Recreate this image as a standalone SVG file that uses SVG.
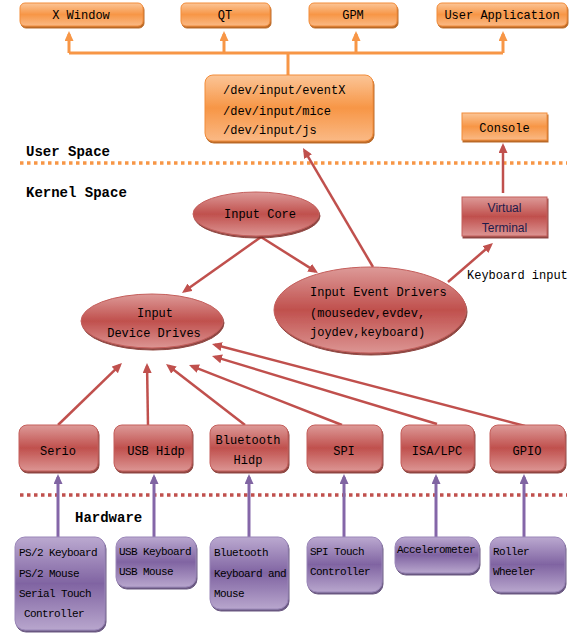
<svg xmlns="http://www.w3.org/2000/svg" width="587" height="635" viewBox="0 0 587 635">
<defs>
<linearGradient id="gO" x1="0" y1="0" x2="0" y2="1"><stop offset="0" stop-color="#fbc597"/><stop offset="0.5" stop-color="#f79646"/><stop offset="1" stop-color="#fab985"/></linearGradient>
<linearGradient id="gR" x1="0" y1="0" x2="0" y2="1"><stop offset="0" stop-color="#dd9a98"/><stop offset="0.5" stop-color="#c0504d"/><stop offset="1" stop-color="#dc9593"/></linearGradient>
<linearGradient id="gP" x1="0" y1="0" x2="0" y2="1"><stop offset="0" stop-color="#bba9d0"/><stop offset="0.5" stop-color="#8064a2"/><stop offset="1" stop-color="#b8a6cd"/></linearGradient>
<filter id="shO" x="-10%" y="-10%" width="125%" height="135%"><feDropShadow dx="1" dy="2" stdDeviation="0.4" flood-color="#b35a10" flood-opacity="0.9"/></filter>
<filter id="shR" x="-10%" y="-10%" width="125%" height="135%"><feDropShadow dx="1" dy="2" stdDeviation="0.4" flood-color="#7a2624" flood-opacity="0.85"/></filter>
<filter id="shP" x="-10%" y="-10%" width="125%" height="135%"><feDropShadow dx="1" dy="2" stdDeviation="0.4" flood-color="#4f3a6c" flood-opacity="0.85"/></filter>
<marker id="aO" markerUnits="userSpaceOnUse" markerWidth="10" markerHeight="9" refX="7" refY="4.5" orient="auto"><path d="M0,0 L10,4.5 L0,9 z" fill="#f79646"/></marker>
<marker id="aR" markerUnits="userSpaceOnUse" markerWidth="10" markerHeight="9" refX="7" refY="4.5" orient="auto"><path d="M0,0 L10,4.5 L0,9 z" fill="#c0504d"/></marker>
<marker id="aP" markerUnits="userSpaceOnUse" markerWidth="10" markerHeight="9" refX="7" refY="4.5" orient="auto"><path d="M0,0 L10,4.5 L0,9 z" fill="#8064a2"/></marker>
</defs>
<style>
text{font-family:"Liberation Mono","DejaVu Sans Mono",monospace;font-size:12px;fill:#000}
.h{font-weight:bold;font-size:14px}
.c{text-anchor:middle}
.s{font-size:11px;letter-spacing:-0.6px}
.sans{font-family:"Liberation Sans",Arial,sans-serif;fill:#1d1b4b}
.or{fill:url(#gO);stroke:#f28c3a;stroke-width:1;filter:url(#shO)}
.rd{fill:url(#gR);stroke:#c45e5b;stroke-width:1;filter:url(#shR)}
.pu{fill:url(#gP);stroke:#9a86b8;stroke-width:1;filter:url(#shP)}
.lo{stroke:#f79646;stroke-width:3;fill:none}
.lr{stroke:#c0504d;stroke-width:2.5;fill:none}
.lp{stroke:#8466a8;stroke-width:3;fill:none}
.dO{stroke:#f79646;stroke-width:3.5;stroke-dasharray:3.5 3.5;fill:none}
.dR{stroke:#c0504d;stroke-width:3.5;stroke-dasharray:3.5 3.5;fill:none}
</style>

<g id="labels">
<text class="h" x="26" y="156">User Space</text>
<text class="h" x="26" y="197">Kernel Space</text>
<text class="h" x="75" y="522">Hardware</text>
<text x="467" y="279">Keyboard input</text>
<path class="dO" d="M20,163 H567"/>
<path class="dR" d="M20,495 H567"/>
</g>

<g id="connectors">
<path class="lo" d="M288,75 V53 M69,53 H503"/>
<path class="lo" d="M69,53 V34" marker-end="url(#aO)"/>
<path class="lo" d="M224,53 V34" marker-end="url(#aO)"/>
<path class="lo" d="M356,53 V34" marker-end="url(#aO)"/>
<path class="lo" d="M503,53 V34" marker-end="url(#aO)"/>
<path class="lr" d="M503,193 V146" marker-end="url(#aR)"/>
<path class="lr" d="M373,267 L304.5,150.6" marker-end="url(#aR)"/>
<path class="lr" d="M448,282 L490.7,245" marker-end="url(#aR)"/>
<path class="lr" d="M261,237 L184.4,291.3" marker-end="url(#aR)"/>
<path class="lr" d="M261,237 L315.5,271.4" marker-end="url(#aR)"/>
<path class="lr" d="M58,425 L119.8,365.1" marker-end="url(#aR)"/>
<path class="lr" d="M148,425 L147.05,366" marker-end="url(#aR)"/>
<path class="lr" d="M245,425 L168.4,365.8" marker-end="url(#aR)"/>
<path class="lr" d="M342,425 L191.8,366.1" marker-end="url(#aR)"/>
<path class="lr" d="M437,424 L214.9,356.9" marker-end="url(#aR)"/>
<path class="lr" d="M525,426 L214.9,344.8" marker-end="url(#aR)"/>
<path class="lp" d="M58,537 V477" marker-end="url(#aP)"/>
<path class="lp" d="M154,537 V477" marker-end="url(#aP)"/>
<path class="lp" d="M249,537 V477" marker-end="url(#aP)"/>
<path class="lp" d="M344,537 V477" marker-end="url(#aP)"/>
<path class="lp" d="M436,537 V477" marker-end="url(#aP)"/>
<path class="lp" d="M524,537 V477" marker-end="url(#aP)"/>
</g>

<g id="xwindow"><rect class="or" x="20" y="3" width="123" height="23" rx="5"/><text class="c" x="81" y="19">X Window</text></g>
<g id="qt"><rect class="or" x="181" y="3" width="89" height="23" rx="5"/><text class="c" x="225" y="19">QT</text></g>
<g id="gpm"><rect class="or" x="309" y="3" width="88" height="23" rx="5"/><text class="c" x="353" y="19">GPM</text></g>
<g id="userapp"><rect class="or" x="437" y="3" width="130" height="23" rx="5"/><text class="c" x="502" y="19">User Application</text></g>
<g id="devinput"><rect class="or" x="205" y="75" width="168" height="66" rx="8"/>
<text x="223" y="94">/dev/input/eventX</text><text x="223" y="115">/dev/input/mice</text><text x="223" y="134">/dev/input/js</text></g>
<g id="console"><rect class="or" x="462" y="113" width="85" height="27"/><text class="c" x="504.5" y="132">Console</text></g>
<g id="vterm"><rect class="rd" x="462" y="197" width="85" height="39"/><text class="c sans" x="504.5" y="212">Virtual</text><text class="c sans" x="504.5" y="232">Terminal</text></g>
<g id="inputcore"><ellipse class="rd" cx="256" cy="214" rx="63" ry="22"/><text class="c" x="260" y="218">Input Core</text></g>
<g id="devdrives"><ellipse class="rd" cx="152" cy="321" rx="71" ry="27"/><text class="c" x="155" y="317">Input</text><text class="c" x="154" y="337">Device Drives</text></g>
<g id="eventdrivers"><ellipse class="rd" cx="370" cy="310" rx="96" ry="43"/>
<text x="310" y="296">Input Event Drivers</text><text x="310" y="317">(mousedev,evdev,</text><text x="310" y="336">joydev,keyboard)</text></g>

<g id="serio"><rect class="rd" x="19" y="425" width="79" height="46" rx="8"/><text class="c" x="58" y="455">Serio</text></g>
<g id="usbhidp"><rect class="rd" x="114" y="425" width="78" height="46" rx="8"/><text class="c" x="156" y="455">USB Hidp</text></g>
<g id="bthidp"><rect class="rd" x="210" y="425" width="78" height="46" rx="8"/><text class="c" x="248" y="444">Bluetooth</text><text class="c" x="248" y="464">Hidp</text></g>
<g id="spi"><rect class="rd" x="307" y="425" width="75" height="46" rx="8"/><text class="c" x="344" y="455">SPI</text></g>
<g id="isalpc"><rect class="rd" x="401" y="425" width="73" height="46" rx="8"/><text class="c" x="437" y="455">ISA/LPC</text></g>
<g id="gpio"><rect class="rd" x="490" y="425" width="75" height="46" rx="8"/><text class="c" x="527" y="455">GPIO</text></g>

<g id="ps2"><rect class="pu" x="15" y="537" width="90" height="93" rx="10"/>
<text class="s" x="19" y="556">PS/2 Keyboard</text><text class="s" x="19" y="577">PS/2 Mouse</text><text class="s" x="19" y="597">Serial Touch</text><text class="s" x="24" y="617">Controller</text></g>
<g id="usbkb"><rect class="pu" x="116" y="537" width="80" height="50" rx="10"/>
<text class="s" x="119" y="555">USB Keyboard</text><text class="s" x="119" y="575">USB Mouse</text></g>
<g id="btkb"><rect class="pu" x="210" y="537" width="78" height="72" rx="10"/>
<text class="s" x="214" y="556">Bluetooth</text><text class="s" x="214" y="577">Keyboard and</text><text class="s" x="214" y="597">Mouse</text></g>
<g id="spitouch"><rect class="pu" x="307" y="537" width="75" height="55" rx="10"/>
<text class="s" x="310" y="555">SPI Touch</text><text class="s" x="310" y="575">Controller</text></g>
<g id="accel"><rect class="pu" x="395" y="537" width="84" height="36" rx="10"/>
<text class="s" x="397" y="553">Accelerometer</text></g>
<g id="roller"><rect class="pu" x="490" y="537" width="75" height="55" rx="10"/>
<text class="s" x="493" y="555">Roller</text><text class="s" x="493" y="575">Wheeler</text></g>
</svg>
